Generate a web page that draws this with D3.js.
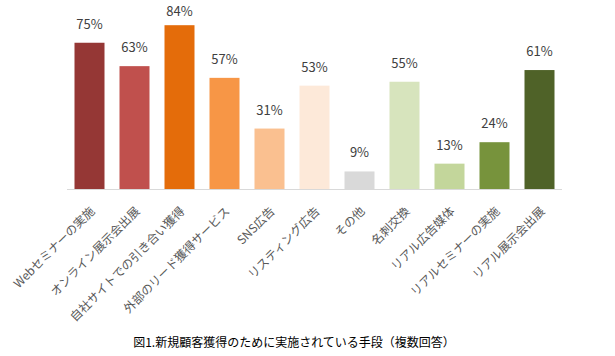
<!DOCTYPE html>
<html><head><meta charset="utf-8">
<script src="https://cdn.jsdelivr.net/npm/d3@7"></script>
<style>
html,body{margin:0;padding:0;background:#fff;}
svg{display:block;}
text{font-family:"Noto Sans CJK JP","Noto Sans",sans-serif;}
</style></head>
<body>
<svg id="chart" width="615" height="356"></svg>
<script>
const categories = ["Webセミナーの実施","オンライン展示会出展","自社サイトでの引き合い獲得","外部のリード獲得サービス","SNS広告","リスティング広告","その他","名刺交換","リアル広告媒体","リアルセミナーの実施","リアル展示会出展"];
const values = [75,63,84,57,31,53,9,55,13,24,61];
const colors = ["#953735","#C0504D","#E46C0A","#F79646","#FAC090","#FDE9D9","#D9D9D9","#D7E4BD","#C3D69B","#77933C","#4F6228"];
const title = "図1.新規顧客獲得のために実施されている手段（複数回答）";

const svg = d3.select("#chart");
const x = d3.scaleBand().domain(categories).range([67, 562]).paddingInner(1/3).paddingOuter(1/6);
const y = d3.scaleLinear().domain([0, 100]).range([189, -6]);

svg.selectAll("rect.bar").data(values).join("rect")
  .attr("class","bar")
  .attr("x",(d,i)=>x(categories[i]))
  .attr("y",d=>y(d))
  .attr("width",x.bandwidth())
  .attr("height",d=>y(0)-y(d))
  .attr("fill",(d,i)=>colors[i]);

svg.append("line").attr("x1",67).attr("x2",562).attr("y1",y(0)+0.5).attr("y2",y(0)+0.5)
  .attr("stroke","#D9D9D9").attr("stroke-width",1);

svg.selectAll("text.val").data(values).join("text")
  .attr("class","val")
  .attr("x",(d,i)=>x(categories[i])+x.bandwidth()/2)
  .attr("y",d=>Math.max(y(d)-14, 16))
  .attr("text-anchor","middle")
  .attr("font-size",13)
  .attr("fill","#404040")
  .text(d=>d+"%");

svg.selectAll("text.cat").data(categories).join("text")
  .attr("class","cat")
  .attr("transform",d=>`translate(${x(d)+x.bandwidth()/2+6},${y(0)+23}) rotate(-45)`)
  .attr("text-anchor","end")
  .attr("font-size",12)
  .attr("fill","#595959")
  .text(d=>d);

svg.append("text").attr("x",294).attr("y",347).attr("text-anchor","middle")
  .attr("font-size",12).attr("fill","#000").text(title);
</script>
</body></html>
